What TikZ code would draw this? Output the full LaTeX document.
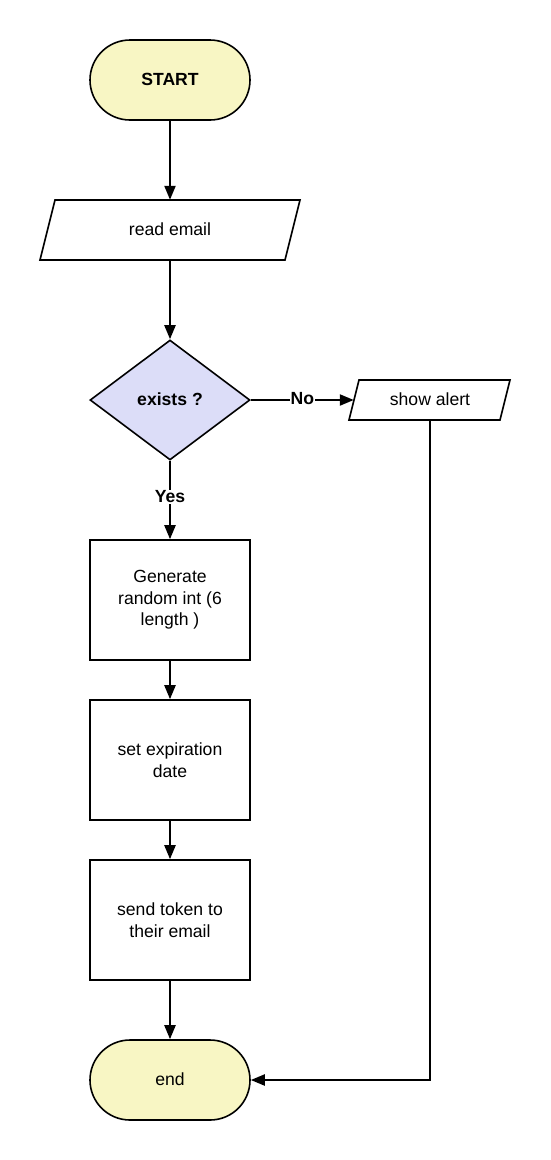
\documentclass[tikz,border=0pt]{standalone}
\usepackage{fontspec}
\setmainfont{Liberation Sans}
\usetikzlibrary{shapes.geometric,arrows.meta}
\definecolor{termfill}{HTML}{F8F6C4}
\definecolor{decfill}{HTML}{DCDDF8}
\tikzset{
  base/.style={font=\fontsize{17.6}{21.5}\selectfont, align=center},
  term/.style={base, draw, line width=1.6pt, fill=termfill, rounded corners=40pt, minimum width=160pt, minimum height=80pt, inner sep=0pt},
  procbox/.style={base, draw, line width=1.6pt, minimum width=160pt, minimum height=120pt, inner sep=0pt},
  decision/.style={base, diamond, draw, line width=1.6pt, fill=decfill, minimum width=160pt, minimum height=120pt, inner sep=0pt},
  iotext/.style={base, minimum height=0pt, inner sep=0pt},
  para/.style={draw, line width=1.6pt, line join=miter},
  conn/.style={line width=2.2pt, -{Triangle[length=14pt,width=11pt]}},
  lbl/.style={font=\fontsize{17.6}{21}\selectfont\bfseries, fill=white, inner sep=1pt},
}
\begin{document}
\begin{tikzpicture}[x=1pt,y=-1pt]
\useasboundingbox (0,0) rectangle (550,1160);
% nodes
\node[term, font=\fontsize{17.6}{21}\selectfont\bfseries] (start) at (170,80) {\raisebox{2pt}{START}};
\node[iotext, minimum width=245pt, minimum height=60pt] (read) at (170,230) {\raisebox{1.5pt}{read email}};
\draw[para] (55,200) -- (300,200) -- (285,260) -- (40,260) -- cycle;
\node[decision] (exists) at (170,400) {\raisebox{2pt}{\bfseries exists ?}};
\node[iotext, minimum width=152pt, minimum height=40pt] (alert) at (430,400) {\raisebox{2.5pt}{show alert}};
\draw[para] (359,380) -- (510,380) -- (500,420) -- (349,420) -- cycle;
\node[procbox] (gen) at (170,600) {Generate\\random int (6\\length )};
\node[procbox] (exp) at (170,760) {set expiration\\date};
\node[procbox] (send) at (170,920) {send token to\\their email};
\node[term] (end) at (170,1080) {\raisebox{2pt}{end}};
\coordinate (corner) at (alert.south |- end.east);
% connectors
\draw[conn] (start.south) -- (read.north);
\draw[conn] (read.south) -- (exists.north);
\draw[conn] (exists.east) -- node[lbl, pos=0.5, yshift=1.5pt]{No} (alert.west);
\draw[conn] (exists.south) -- node[lbl, pos=0.46]{Yes} (gen.north);
\draw[conn] (gen.south) -- (exp.north);
\draw[conn] (exp.south) -- (send.north);
\draw[conn] (send.south) -- (end.north);
\draw[conn] (alert.south) -- (corner) -- (end.east);
\end{tikzpicture}
\end{document}
